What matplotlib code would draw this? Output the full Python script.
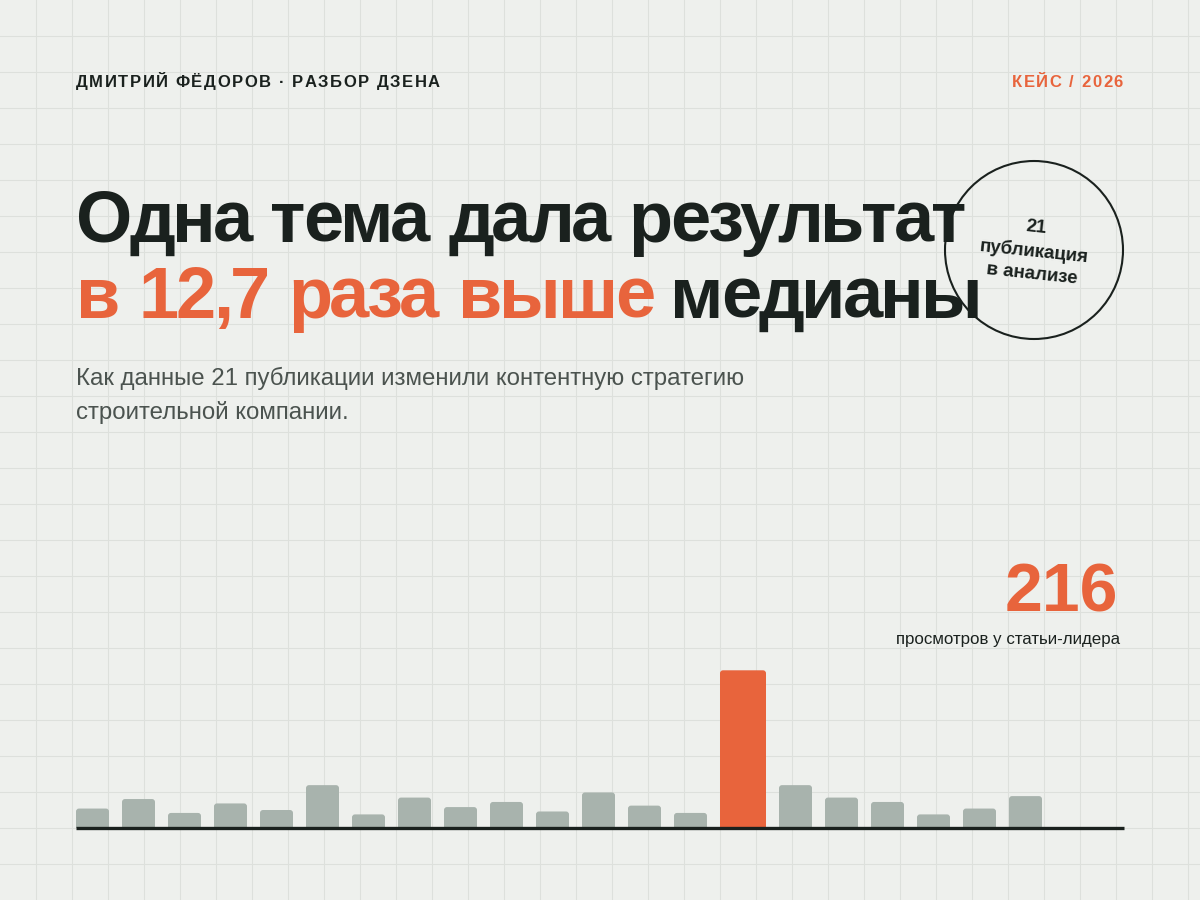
import numpy as np
import matplotlib
matplotlib.use('Agg')
import matplotlib.pyplot as plt
from matplotlib import font_manager
from matplotlib.ft2font import FT2Font
from matplotlib.patches import FancyBboxPatch, Circle

# Data: views per publication, leader is the highlighted one
views = [27, 40, 21, 34, 25, 59, 19, 42, 29, 36, 23, 49, 31, 21, 216, 59, 42, 36, 19, 27, 44]
leader_idx = 14
header_left = 'ДМИТРИЙ ФЁДОРОВ · РАЗБОР ДЗЕНА'
header_right = 'КЕЙС / 2026'
title_line1 = 'Одна тема дала результат'
title_accent = 'в 12,7 раза выше'
title_rest = ' медианы'
subtitle = ['Как данные 21 публикации изменили контентную стратегию',
            'строительной компании.']
badge_text = '21\nпубликация\nв анализе'
leader_label = 'просмотров у статьи-лидера'

BG = '#eef0ed'
GRID = '#dde0dc'
DARK = '#1a211e'
ORANGE = '#e8643c'
GREY_BAR = '#a8b3ad'
GREY_TXT = '#4b534f'
DPI = 100
FAMILY = 'Liberation Sans'

fig = plt.figure(figsize=(12, 9), dpi=DPI, facecolor=BG)

# background axes in pixel units (y down)
bg = fig.add_axes([0, 0, 1, 1])
bg.set_xlim(0, 1200)
bg.set_ylim(900, 0)
bg.axis('off')
bg.set_facecolor(BG)
for gx in range(36, 1200, 36):
    bg.axvline(gx, color=GRID, lw=0.75, zorder=0)
for gy in range(36, 900, 36):
    bg.axhline(gy, color=GRID, lw=0.75, zorder=0)


def tracked(ax, x, y, s, size, track, color, weight='bold', ha='left', word=0.0):
    # draws text char by char with letter spacing (track in px), extra word gap
    fp = font_manager.FontProperties(family=FAMILY, weight=weight)
    font = FT2Font(font_manager.findfont(fp))
    font.set_size(size, 72)
    adv = [font.load_char(ord(c)).linearHoriAdvance / 65536 * DPI / 72
           + (word if c == ' ' else 0) for c in s]
    total = sum(adv) + track * (len(s) - 1)
    if ha == 'right':
        x -= total
    for c, a in zip(s, adv):
        ax.text(x, y, c, fontsize=size, family=FAMILY, weight=weight,
                color=color, va='baseline', ha='left', zorder=3)
        x += a + track
    return x


# header
tracked(bg, 76, 87, header_left, 12, 1.5, DARK)
tracked(bg, 1123, 87, header_right, 12, 1.5, ORANGE, ha='right')

# title
tracked(bg, 76, 242, title_line1, 52, -3.0, DARK, word=3.5)
xe = tracked(bg, 76, 318, title_accent, 52, -3.0, ORANGE, word=4)
tracked(bg, xe - 3.0, 318, title_rest, 52, -2.8, DARK, word=4)

# subtitle
for i, line in enumerate(subtitle):
    bg.text(76, 384.5 + i * 34.7, line, fontsize=17.25, family=FAMILY,
            color=GREY_TXT, va='baseline', ha='left')

# badge
bg.add_patch(Circle((1034, 250), 89, fill=False, ec=DARK, lw=1.5, zorder=2))
bg.text(1034, 251, badge_text, fontsize=13.5, family=FAMILY, weight='bold',
        color=DARK, ha='center', va='center', multialignment='center',
        rotation=-6, rotation_mode='anchor', linespacing=1.45, zorder=3)

# leader callout
bg.text(1118, 611, str(views[leader_idx]), fontsize=49, family=FAMILY,
        weight='bold', color=ORANGE, ha='right', va='baseline')
bg.text(1120, 644, leader_label, fontsize=12.2, family=FAMILY, color=DARK,
        ha='right', va='baseline')

# bars
ax = fig.add_axes([76 / 1200, (900 - 828.3) / 900, 1048 / 1200, 158 / 900])
ax.set_xlim(0, 1048)
ymax = max(views)
ax.set_ylim(0, ymax)
ax.axis('off')
ax.patch.set_alpha(0)

aspect = ymax / 158
gap = 13
x = 0
for i, v in enumerate(views):
    w = 46 if i == leader_idx else 33
    col = ORANGE if i == leader_idx else GREY_BAR
    p = FancyBboxPatch((x, -4 * aspect), w, v + 4 * aspect,
                       boxstyle='round,pad=0,rounding_size=3',
                       mutation_aspect=aspect, fc=col, ec='none')
    ax.add_patch(p)
    x += w + gap

ax.axhline(0, color=DARK, lw=2.4, clip_on=False, zorder=5, solid_capstyle='butt')

fig.savefig('out.png', dpi=DPI, facecolor=BG)
